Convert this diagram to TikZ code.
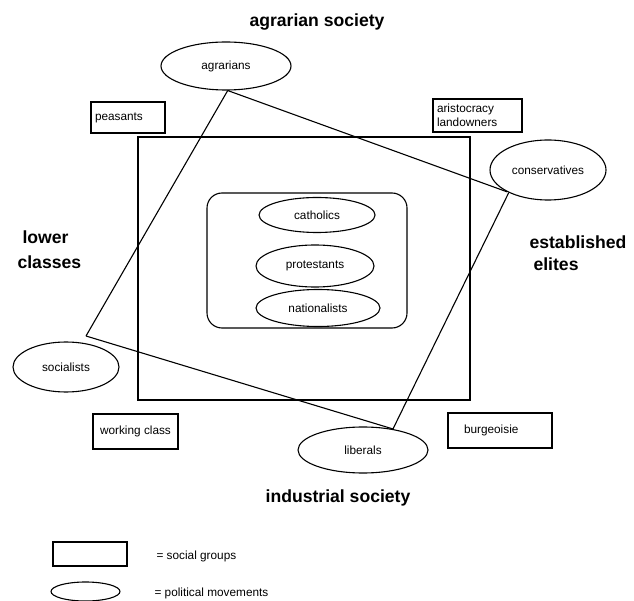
\documentclass[tikz,border=0pt]{standalone}
\usepackage{fontspec}
\setmainfont{Liberation Sans}
\usetikzlibrary{shapes.geometric}
\begin{document}
\begin{tikzpicture}[x=1pt,y=-1pt, line width=1.1pt,
  small/.style={font=\fontsize{11.8pt}{13.5pt}\selectfont},
  big/.style={font=\bfseries\fontsize{17.6pt}{22pt}\selectfont, inner sep=0pt},
  grp/.style={draw, rectangle, small, inner ysep=0pt},
  mov/.style={draw, ellipse, small, inner sep=0pt},
]
\useasboundingbox (0,0) rectangle (634,601);
% titles
\node[big] (tag) at (317,22) {agrarian society};
\node[big] (tind) at (338,498) {industrial society};
\node[big, align=left, anchor=west, font=\bfseries\fontsize{17.6pt}{25pt}\selectfont] (tlow) at (17,250) {\hspace*{5pt}lower\\classes};
\node[big, align=left, anchor=west] (telite) at (529,253) {established\\\hspace*{4pt}elites};
% society frame and religion box
\node[draw, minimum width=332pt, minimum height=263pt, inner sep=0pt] (society) at (304,268.5) {};
\node[draw, rounded corners=15pt, minimum width=200pt, minimum height=135pt, inner sep=0pt] (rel) at (307,260.5) {};
% social groups
\node[grp, minimum width=74pt, minimum height=31pt, inner xsep=4pt, text width=66pt, align=left] (peas) at (128,117.5) {peasants};
\node[grp, minimum width=89pt, minimum height=33pt, inner xsep=4pt, text width=81pt, align=left] (aris) at (477.5,115.5) {aristocracy\\landowners};
\node[grp, minimum width=85pt, minimum height=35pt] (work) at (135.5,431.5) {working class};
\node[grp, minimum width=104pt, minimum height=35pt, inner xsep=16pt, text width=72pt, align=left] (burg) at (500,430.5) {burgeoisie};
% political movements
\node[mov, minimum width=130pt, minimum height=48pt] (agr) at (226,66) {agrarians};
\node[mov, minimum width=116pt, minimum height=60pt] (cons) at (548,170) {conservatives};
\node[mov, minimum width=106pt, minimum height=50pt] (soc) at (66,367) {socialists};
\node[mov, minimum width=130pt, minimum height=46pt] (lib) at (363,450) {liberals};
\node[mov, minimum width=116pt, minimum height=35pt] (cath) at (317,215) {catholics};
\node[mov, minimum width=118pt, minimum height=42pt] (prot) at (315,266) {protestants};
\node[mov, minimum width=124pt, minimum height=37pt] (nat) at (318,308) {nationalists};
% connectors
\coordinate (sj) at (86,336);
\draw (agr.-86) -- (sj);
\draw (sj) -- (lib.34);
\draw (agr.-86) -- (cons.208);
\draw (cons.210) -- (lib.35);
% legend
\node[draw, minimum width=74pt, minimum height=24pt, inner sep=0pt] (lgrp) at (90,554) {};
\node[small, anchor=west, inner sep=0pt] (lgrpt) at (156,556) {= social groups};
\node[draw, ellipse, minimum width=69pt, minimum height=19pt, inner sep=0pt] (lmov) at (85.5,591.5) {};
\node[small, anchor=west, inner sep=0pt] (lmovt) at (154,593) {= political movements};
\end{tikzpicture}
\end{document}
